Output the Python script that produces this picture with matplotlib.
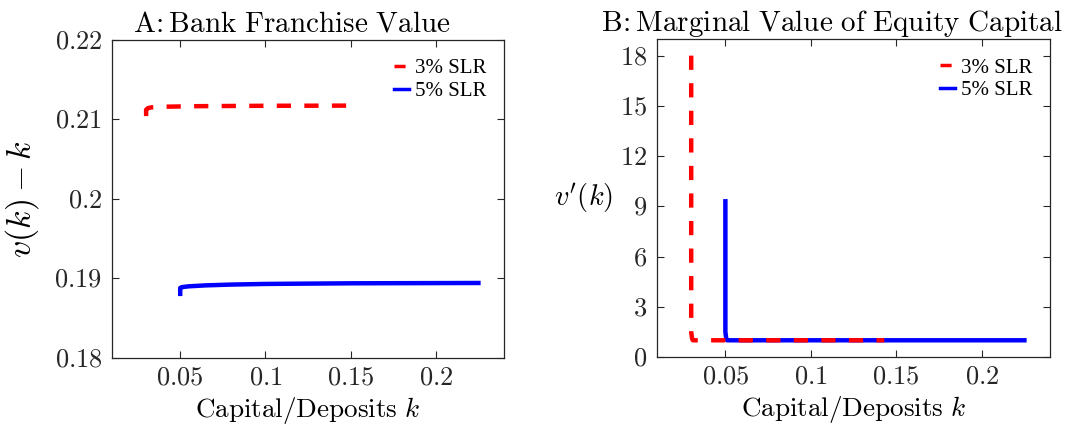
import matplotlib
matplotlib.use("Agg")
import matplotlib.pyplot as plt

plt.rcParams['mathtext.fontset'] = 'cm'
plt.rcParams['font.family'] = ['Liberation Serif', 'DejaVu Serif']

# Panel A data
k3_a = [0.030, 0.030, 0.031, 0.033, 0.040, 0.060, 0.100, 0.150]
v3_a = [0.2104, 0.2112, 0.21140, 0.21150, 0.21158, 0.21165, 0.21170, 0.21172]
k5_a = [0.050, 0.050, 0.051, 0.055, 0.065, 0.080, 0.100, 0.150, 0.225]
v5_a = [0.18805, 0.18880, 0.18890, 0.18900, 0.18912, 0.18922, 0.18930, 0.18938, 0.18942]

# Panel B data
k3_b = [0.030, 0.030, 0.0305, 0.031, 0.143]
d3_b = [18.0, 1.5, 1.1, 1.0, 1.0]
k5_b = [0.050, 0.050, 0.0505, 0.051, 0.225]
d5_b = [9.3, 1.5, 1.1, 1.0, 1.0]

xticks = [0.05, 0.1, 0.15, 0.2]
xticklabels = ['0.05', '0.1', '0.15', '0.2']
yticks_a = [0.18, 0.19, 0.20, 0.21, 0.22]
yticklabels_a = ['0.18', '0.19', '0.2', '0.21', '0.22']
yticks_b = [0, 3, 6, 9, 12, 15, 18]

fig = plt.figure(figsize=(10.68, 4.37), dpi=100)
ax1 = fig.add_axes([0.1049, 0.181, 0.367, 0.728])
ax2 = fig.add_axes([0.6152, 0.183, 0.368, 0.728])

red_dash = (0, (3.2, 3.0))
for ax in (ax1, ax2):
    ax.set_xlim(0.01, 0.24)
    ax.set_xticks(xticks)
    ax.set_xticklabels([f'${t}$' for t in xticklabels], fontsize=19)
    ax.tick_params(direction='in', top=True, right=True, length=5, width=0.8, colors='#262626', pad=7)
    for s in ax.spines.values():
        s.set_color('#262626')
        s.set_linewidth(0.9)
    ax.set_xlabel(r'$\mathrm{Capital/Deposits}\ k$', fontsize=19.5, labelpad=4)

ax1.plot(k3_a, v3_a, color='#ff0000', lw=3.2, linestyle=red_dash, label='3% SLR', zorder=3)
ax1.plot(k5_a, v5_a, color='#0000ff', lw=3.2, label='5% SLR', zorder=2)
ax1.set_ylim(0.18, 0.22)
ax1.set_yticks(yticks_a)
ax1.set_yticklabels([f'${t}$' for t in yticklabels_a], fontsize=19)
ax1.set_ylabel(r'$v(k)-k$', fontsize=24.5, labelpad=10)
ax1.set_title(r'$\mathrm{A}\!:\mathrm{Bank\ Franchise\ Value}$', fontsize=21, pad=6, x=0.458)

ax2.plot(k3_b, d3_b, color='#ff0000', lw=3.2, linestyle=red_dash, label='3% SLR', zorder=3)
ax2.plot(k5_b, d5_b, color='#0000ff', lw=3.2, label='5% SLR', zorder=2)
ax2.set_ylim(0, 19)
ax2.set_yticks(yticks_b)
ax2.set_yticklabels([f'${t}$' for t in yticks_b], fontsize=19)
ax2.set_ylabel(r"$v'(k)$", fontsize=20.5, rotation=0, labelpad=26, va='center')
ax2.set_title(r'$\mathrm{B}\!:\mathrm{Marginal\ Value\ of\ Equity\ Capital}$', fontsize=21, pad=6, x=0.445)

for ax in (ax1, ax2):
    leg = ax.legend(loc='upper right', frameon=False, fontsize=15, handlelength=0.7,
                    handletextpad=0.3, borderaxespad=0.0, borderpad=0.0, labelspacing=0.15,
                    bbox_to_anchor=(0.955, 0.94))
    for h in leg.get_lines():
        h.set_linewidth(2.5)

fig.savefig('out.png', dpi=100)
